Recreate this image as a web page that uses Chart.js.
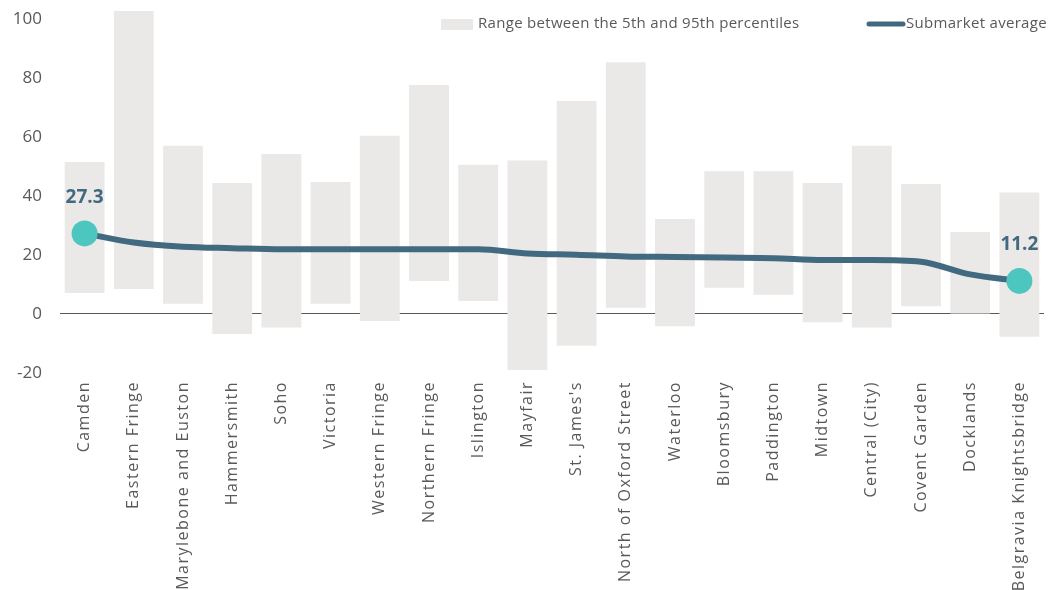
<!DOCTYPE html>
<html>
<head>
<meta charset="utf-8">
<script src="https://cdn.jsdelivr.net/npm/chart.js@4"></script>
<style>
  html, body { margin: 0; padding: 0; background: #fff; }
  #wrap { width: 1050px; height: 590px; }
</style>
</head>
<body>
<div id="wrap"><canvas id="RANGE_CHART" width="1050" height="590"></canvas></div>
<script>
const submarkets = ["Camden","Eastern Fringe","Marylebone and Euston","Hammersmith","Soho","Victoria","Western Fringe","Northern Fringe","Islington","Mayfair","St. James's","North of Oxford Street","Waterloo","Bloomsbury","Paddington","Midtown","Central (City)","Covent Garden","Docklands","Belgravia Knightsbridge"];
const p5  = [7.1, 8.5, 3.5, -6.8, -4.6, 3.5, -2.4, 11.2, 4.4, -19, -10.8, 2.1, -4.2, 8.9, 6.5, -2.8, -4.6, 2.6, 0, -7.7];
const p95 = [51.5, 102.7, 57, 44.4, 54.2, 44.7, 60.4, 77.6, 50.6, 52, 72.2, 85.3, 32.2, 48.4, 48.4, 44.4, 57, 44, 27.8, 41.2];
const average = [27.3, 24.2, 22.8, 22.3, 21.9, 21.9, 21.9, 21.9, 21.9, 20.5, 20.1, 19.5, 19.3, 19.1, 18.9, 18.3, 18.3, 17.7, 13.4, 11.2];
const yTicks = [-20, 0, 20, 40, 60, 80, 100];

const lineColor = '#41697F';
const dotColor = '#4CC6BE';
const barColor = '#EBE9E7';
const textColor = '#595959';

// first and last points get the big dot and a label
const last = average.length - 1;

//legend drawn by hand so it can sit over the plot
const legendPlugin = {
    id: 'handLegend',
    afterDraw(chart){
        const c = chart.ctx;
        c.save();
        c.letterSpacing = '0.3px';
        c.fillStyle = barColor;
        c.fillRect(441, 19, 32, 11);
        c.strokeStyle = lineColor;
        c.lineWidth = 5;
        c.lineCap = 'round';
        c.beginPath();
        c.moveTo(869, 24);
        c.lineTo(903, 24);
        c.stroke();
        c.fillStyle = textColor;
        c.font = '15px "Open Sans"';
        c.textBaseline = 'middle';
        c.fillText('Range between the 5th and 95th percentiles', 478, 24);
        c.fillText('Submarket average', 906, 24);
        c.restore();
    }
};

//value labels over first and last point, then spacing for the x labels drawn after
const endLabels = {
    id: 'endLabels',
    afterDatasetsDraw(chart){
        const meta = chart.getDatasetMeta(1);
        const c = chart.ctx;
        c.save();
        c.letterSpacing = '0px';
        c.fillStyle = lineColor;
        c.font = 'bold 19px "Open Sans"';
        c.textAlign = 'center';
        c.textBaseline = 'middle';
        [0, last].forEach(i => {
            const pt = meta.data[i];
            c.fillText(average[i].toFixed(1), pt.x, pt.y - 36);
        });
        c.restore();
        c.letterSpacing = '1.5px';
    },
    afterDraw(chart){
        chart.ctx.letterSpacing = '0px';
    }
};

let ctx = document.getElementById('RANGE_CHART');
let myChart = new Chart(ctx, {
    data: {
        labels: submarkets,
        datasets: [{
            type: 'bar',
            label: 'Range between the 5th and 95th percentiles',
            data: p5.map((v, i) => [v, p95[i]]),
            backgroundColor: barColor,
            barPercentage: 0.81,
            categoryPercentage: 1,
            order: 2
        },{
            type: 'line',
            label: 'Submarket average',
            data: average,
            borderColor: lineColor,
            borderWidth: 6,
            borderCapStyle: 'round',
            cubicInterpolationMode: 'monotone',
            pointRadius: average.map((v, i) => (i === 0 || i === last) ? 13 : 0),
            pointBackgroundColor: dotColor,
            pointBorderWidth: 0,
            order: 1
        }]
    },
    options: {
        responsive: false,
        animation: false,
        devicePixelRatio: 1,
        layout: {
            autoPadding: false,
            padding: { top: 10, right: 6, left: 0, bottom: 0 }
        },
        scales: {
            x: {
                grid: { display: false, drawTicks: false },
                border: { display: false },
                ticks: {
                    z: 1,
                    minRotation: 90,
                    maxRotation: 90,
                    padding: 8,
                    color: textColor,
                    font: { family: '"Open Sans"', size: 16 }
                },
                afterFit(scale){
                    scale.height = 217;
                    scale.paddingLeft = 0;
                    scale.paddingRight = 0;
                }
            },
            y: {
                min: -20,
                max: 103,
                afterBuildTicks(scale){ scale.ticks = yTicks.map(v => ({ value: v })); },
                grid: {
                    drawTicks: false,
                    color: c => c.tick && c.tick.value === 0 ? '#595959' : 'rgba(0,0,0,0)',
                    lineWidth: 1
                },
                border: { display: false },
                ticks: {
                    padding: 18,
                    color: textColor,
                    font: { family: '"Open Sans"', size: 17 }
                },
                afterFit(scale){
                    scale.width = 60;
                    scale.paddingTop = 0;
                    scale.paddingBottom = 0;
                }
            }
        },
        plugins: {
            legend: { display: false },
            tooltip: { enabled: false }
        }
    },
    plugins: [legendPlugin, endLabels]
});
</script>
</body>
</html>
